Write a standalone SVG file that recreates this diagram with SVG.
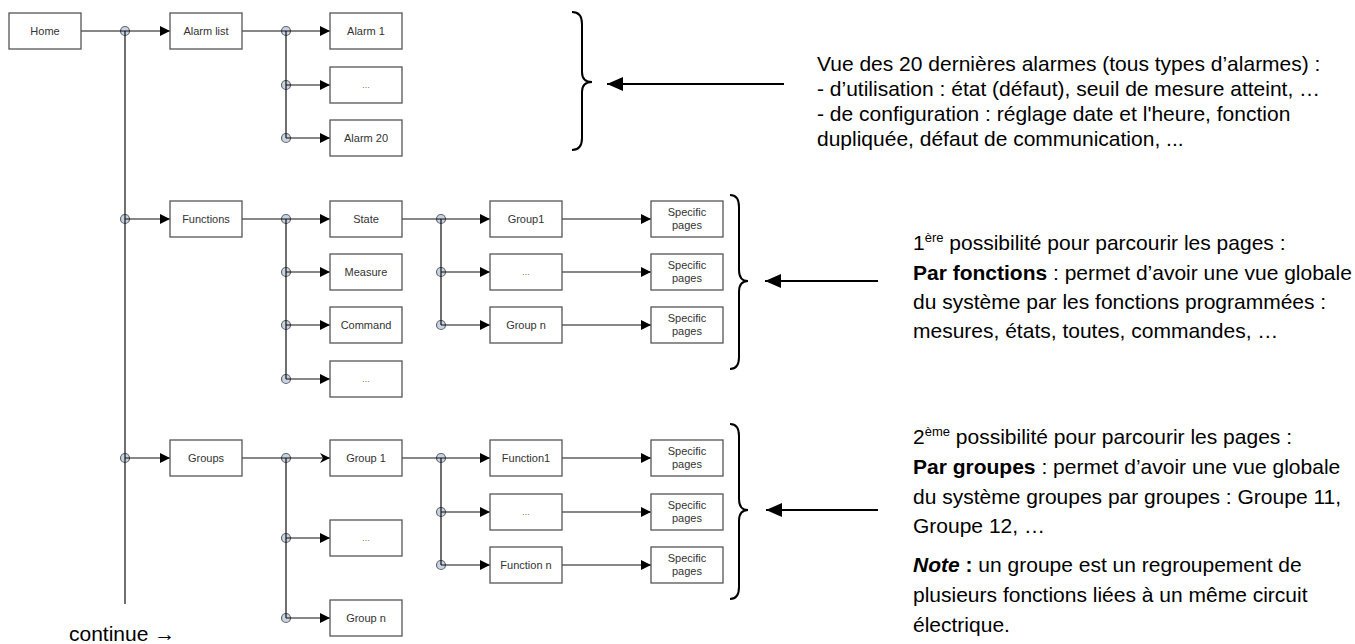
<svg xmlns="http://www.w3.org/2000/svg" width="1355" height="644" viewBox="0 0 1355 644">
<style>
.box{fill:#fff;stroke:#555;stroke-width:1.3}
.lbl{font-family:"Liberation Sans",Arial,sans-serif;font-size:11px;fill:#333;text-anchor:middle}
.dots{font-family:"Liberation Sans",Arial,sans-serif;font-size:9px;fill:#777;text-anchor:middle}
.ln{stroke:#111;stroke-width:1.2;fill:none}
.arr{stroke:#111;stroke-width:1.2;fill:none;marker-end:url(#ah)}
.arr2{stroke:#111;stroke-width:1.2;fill:none;marker-end:url(#ah2)}
.jn{fill:#c8d4e6;stroke:#666;stroke-width:1.2}
.brace{fill:none;stroke:#000;stroke-width:2}
.big{stroke:#000;stroke-width:2;fill:none;marker-end:url(#bh)}
.txt{font-family:"Liberation Sans",Arial,sans-serif;font-size:21px;fill:#000}
</style>
<defs>
<marker id="ah" viewBox="0 0 10 10" refX="10" refY="5" markerWidth="10" markerHeight="10" markerUnits="userSpaceOnUse" orient="auto"><path d="M0,0 L10,5 L0,10 z" fill="#000"/></marker>
<marker id="ah2" viewBox="0 0 10 10" refX="10" refY="5" markerWidth="10" markerHeight="10" markerUnits="userSpaceOnUse" orient="auto"><path d="M0,0 L10,5 L0,10 L3,5 z" fill="#000"/></marker>
<marker id="bh" viewBox="0 0 16 14" refX="16" refY="7" markerWidth="16" markerHeight="14" markerUnits="userSpaceOnUse" orient="auto"><path d="M0,0 L16,7 L0,14 z" fill="#000"/></marker>
</defs>

<g id="junctions">
<circle class="jn" cx="125" cy="31" r="4.5"/>
<circle class="jn" cx="125" cy="219" r="4.5"/>
<circle class="jn" cx="125" cy="458" r="4.5"/>
<circle class="jn" cx="286" cy="31" r="4.5"/>
<circle class="jn" cx="286" cy="85" r="4.5"/>
<circle class="jn" cx="286" cy="138" r="4.5"/>
<circle class="jn" cx="286" cy="219" r="4.5"/>
<circle class="jn" cx="286" cy="272" r="4.5"/>
<circle class="jn" cx="286" cy="325" r="4.5"/>
<circle class="jn" cx="286" cy="379" r="4.5"/>
<circle class="jn" cx="441" cy="219" r="4.5"/>
<circle class="jn" cx="441" cy="272" r="4.5"/>
<circle class="jn" cx="441" cy="325" r="4.5"/>
<circle class="jn" cx="286" cy="458" r="4.5"/>
<circle class="jn" cx="286" cy="538" r="4.5"/>
<circle class="jn" cx="286" cy="618" r="4.5"/>
<circle class="jn" cx="441" cy="458" r="4.5"/>
<circle class="jn" cx="441" cy="512" r="4.5"/>
<circle class="jn" cx="441" cy="565" r="4.5"/>
</g>

<g id="connectors">
<path class="ln" d="M125,31 V604"/>
<path class="ln" d="M81,31 H125"/>
<path class="arr" d="M125,31 H170"/>
<path class="arr" d="M125,219 H170"/>
<path class="arr" d="M125,458 H170"/>
<path class="ln" d="M242,31 H286 M286,31 V138"/>
<path class="arr" d="M286,31 H330"/>
<path class="arr" d="M286,85 H330"/>
<path class="arr" d="M286,138 H330"/>
<path class="ln" d="M242,219 H286 M286,219 V379"/>
<path class="arr" d="M286,219 H330"/>
<path class="arr" d="M286,272 H330"/>
<path class="arr" d="M286,325 H330"/>
<path class="arr" d="M286,379 H330"/>
<path class="ln" d="M402,219 H441 M441,219 V325"/>
<path class="arr" d="M441,219 H490"/>
<path class="arr" d="M441,272 H490"/>
<path class="arr" d="M441,325 H490"/>
<path class="arr" d="M562,219 H651"/>
<path class="arr" d="M562,272 H651"/>
<path class="arr" d="M562,325 H651"/>
<path class="ln" d="M242,458 H286 M286,458 V618"/>
<path class="arr2" d="M286,458 H330"/>
<path class="arr" d="M286,538 H330"/>
<path class="arr" d="M286,618 H330"/>
<path class="ln" d="M402,458 H441 M441,458 V565"/>
<path class="arr" d="M441,458 H490"/>
<path class="arr" d="M441,512 H490"/>
<path class="arr" d="M441,565 H490"/>
<path class="arr" d="M562,458 H651"/>
<path class="arr" d="M562,512 H651"/>
<path class="arr" d="M562,565 H651"/>
<path class="big" d="M784,84 H607"/>
<path class="big" d="M878,281 H765"/>
<path class="big" d="M878,510 H766"/>
</g>

<g id="home"><rect class="box" x="9" y="13" width="72" height="36"/><text class="lbl" x="45" y="35">Home</text></g>
<g id="alarmlist"><rect class="box" x="170" y="13" width="72" height="36"/><text class="lbl" x="206" y="35">Alarm list</text></g>
<g id="alarm1"><rect class="box" x="330" y="13" width="72" height="36"/><text class="lbl" x="366" y="35">Alarm 1</text></g>
<g id="alarmdots"><rect class="box" x="330" y="67" width="72" height="36"/><text class="dots" x="366" y="88">...</text></g>
<g id="alarm20"><rect class="box" x="330" y="120" width="72" height="36"/><text class="lbl" x="366" y="142">Alarm 20</text></g>

<g id="functions"><rect class="box" x="170" y="201" width="72" height="36"/><text class="lbl" x="206" y="223">Functions</text></g>
<g id="state"><rect class="box" x="330" y="201" width="72" height="36"/><text class="lbl" x="366" y="223">State</text></g>
<g id="measure"><rect class="box" x="330" y="254" width="72" height="36"/><text class="lbl" x="366" y="276">Measure</text></g>
<g id="command"><rect class="box" x="330" y="307" width="72" height="36"/><text class="lbl" x="366" y="329">Command</text></g>
<g id="funcdots"><rect class="box" x="330" y="361" width="72" height="36"/><text class="dots" x="366" y="382">...</text></g>
<g id="group1a"><rect class="box" x="490" y="201" width="72" height="36"/><text class="lbl" x="526" y="223">Group1</text></g>
<g id="groupdotsa"><rect class="box" x="490" y="254" width="72" height="36"/><text class="dots" x="526" y="275">...</text></g>
<g id="groupna"><rect class="box" x="490" y="307" width="72" height="36"/><text class="lbl" x="526" y="329">Group n</text></g>
<g id="spec1"><rect class="box" x="651" y="201" width="72" height="36"/><text class="lbl" x="687" y="216">Specific</text><text class="lbl" x="687" y="229">pages</text></g>
<g id="spec2"><rect class="box" x="651" y="254" width="72" height="36"/><text class="lbl" x="687" y="269">Specific</text><text class="lbl" x="687" y="282">pages</text></g>
<g id="spec3"><rect class="box" x="651" y="307" width="72" height="36"/><text class="lbl" x="687" y="322">Specific</text><text class="lbl" x="687" y="335">pages</text></g>

<g id="groups"><rect class="box" x="170" y="440" width="72" height="36"/><text class="lbl" x="206" y="462">Groups</text></g>
<g id="group1b"><rect class="box" x="330" y="440" width="72" height="36"/><text class="lbl" x="366" y="462">Group 1</text></g>
<g id="groupdotsb"><rect class="box" x="330" y="520" width="72" height="36"/><text class="dots" x="366" y="541">...</text></g>
<g id="groupnb"><rect class="box" x="330" y="600" width="72" height="36"/><text class="lbl" x="366" y="622">Group n</text></g>
<g id="function1"><rect class="box" x="490" y="440" width="72" height="36"/><text class="lbl" x="526" y="462">Function1</text></g>
<g id="fundots"><rect class="box" x="490" y="494" width="72" height="36"/><text class="dots" x="526" y="515">...</text></g>
<g id="functionn"><rect class="box" x="490" y="547" width="72" height="36"/><text class="lbl" x="526" y="569">Function n</text></g>
<g id="spec4"><rect class="box" x="651" y="440" width="72" height="36"/><text class="lbl" x="687" y="455">Specific</text><text class="lbl" x="687" y="468">pages</text></g>
<g id="spec5"><rect class="box" x="651" y="494" width="72" height="36"/><text class="lbl" x="687" y="509">Specific</text><text class="lbl" x="687" y="522">pages</text></g>
<g id="spec6"><rect class="box" x="651" y="547" width="72" height="36"/><text class="lbl" x="687" y="562">Specific</text><text class="lbl" x="687" y="575">pages</text></g>

<g id="braces">
<path class="brace" d="M572,12 Q582,12 582,24 L582,72 Q582,82 592,82 Q582,82 582,92 L582,138 Q582,150 572,150"/>
<path class="brace" d="M730,195 Q739,195 739,207 L739,270 Q739,281 748,281 Q739,281 739,292 L739,357 Q739,369 730,369"/>
<path class="brace" d="M730,424 Q739,424 739,436 L739,499 Q739,510 748,510 Q739,510 739,521 L739,587 Q739,599 730,599"/>
</g>

<g id="note1">
<text class="txt" x="817" y="71">Vue des 20 dernières alarmes (tous types d’alarmes) :</text>
<text class="txt" x="817" y="96">- d’utilisation : état (défaut), seuil de mesure atteint, …</text>
<text class="txt" x="817" y="121">- de configuration : réglage date et l'heure, fonction</text>
<text class="txt" x="817" y="146">dupliquée, défaut de communication, ...</text>
</g>
<g id="note2">
<text class="txt" x="913" y="250">1<tspan font-size="13" dy="-8">ère</tspan><tspan dy="8"> possibilité pour parcourir les pages :</tspan></text>
<text class="txt" x="913" y="280"><tspan font-weight="bold">Par fonctions</tspan> : permet d’avoir une vue globale</text>
<text class="txt" x="913" y="309">du système par les fonctions programmées :</text>
<text class="txt" x="913" y="338">mesures, états, toutes, commandes, …</text>
</g>
<g id="note3">
<text class="txt" x="913" y="444">2<tspan font-size="13" dy="-8">ème</tspan><tspan dy="8"> possibilité pour parcourir les pages :</tspan></text>
<text class="txt" x="913" y="474"><tspan font-weight="bold">Par groupes</tspan> : permet d’avoir une vue globale</text>
<text class="txt" x="913" y="504">du système groupes par groupes : Groupe 11,</text>
<text class="txt" x="913" y="533">Groupe 12, …</text>
<text class="txt" x="913" y="572"><tspan font-weight="bold" font-style="italic">Note</tspan><tspan font-weight="bold"> :</tspan> un groupe est un regroupement de</text>
<text class="txt" x="913" y="602">plusieurs fonctions liées à un même circuit</text>
<text class="txt" x="913" y="632">électrique.</text>
</g>
<g id="continue"><text class="txt" x="69" y="641">continue →</text></g>
</svg>
